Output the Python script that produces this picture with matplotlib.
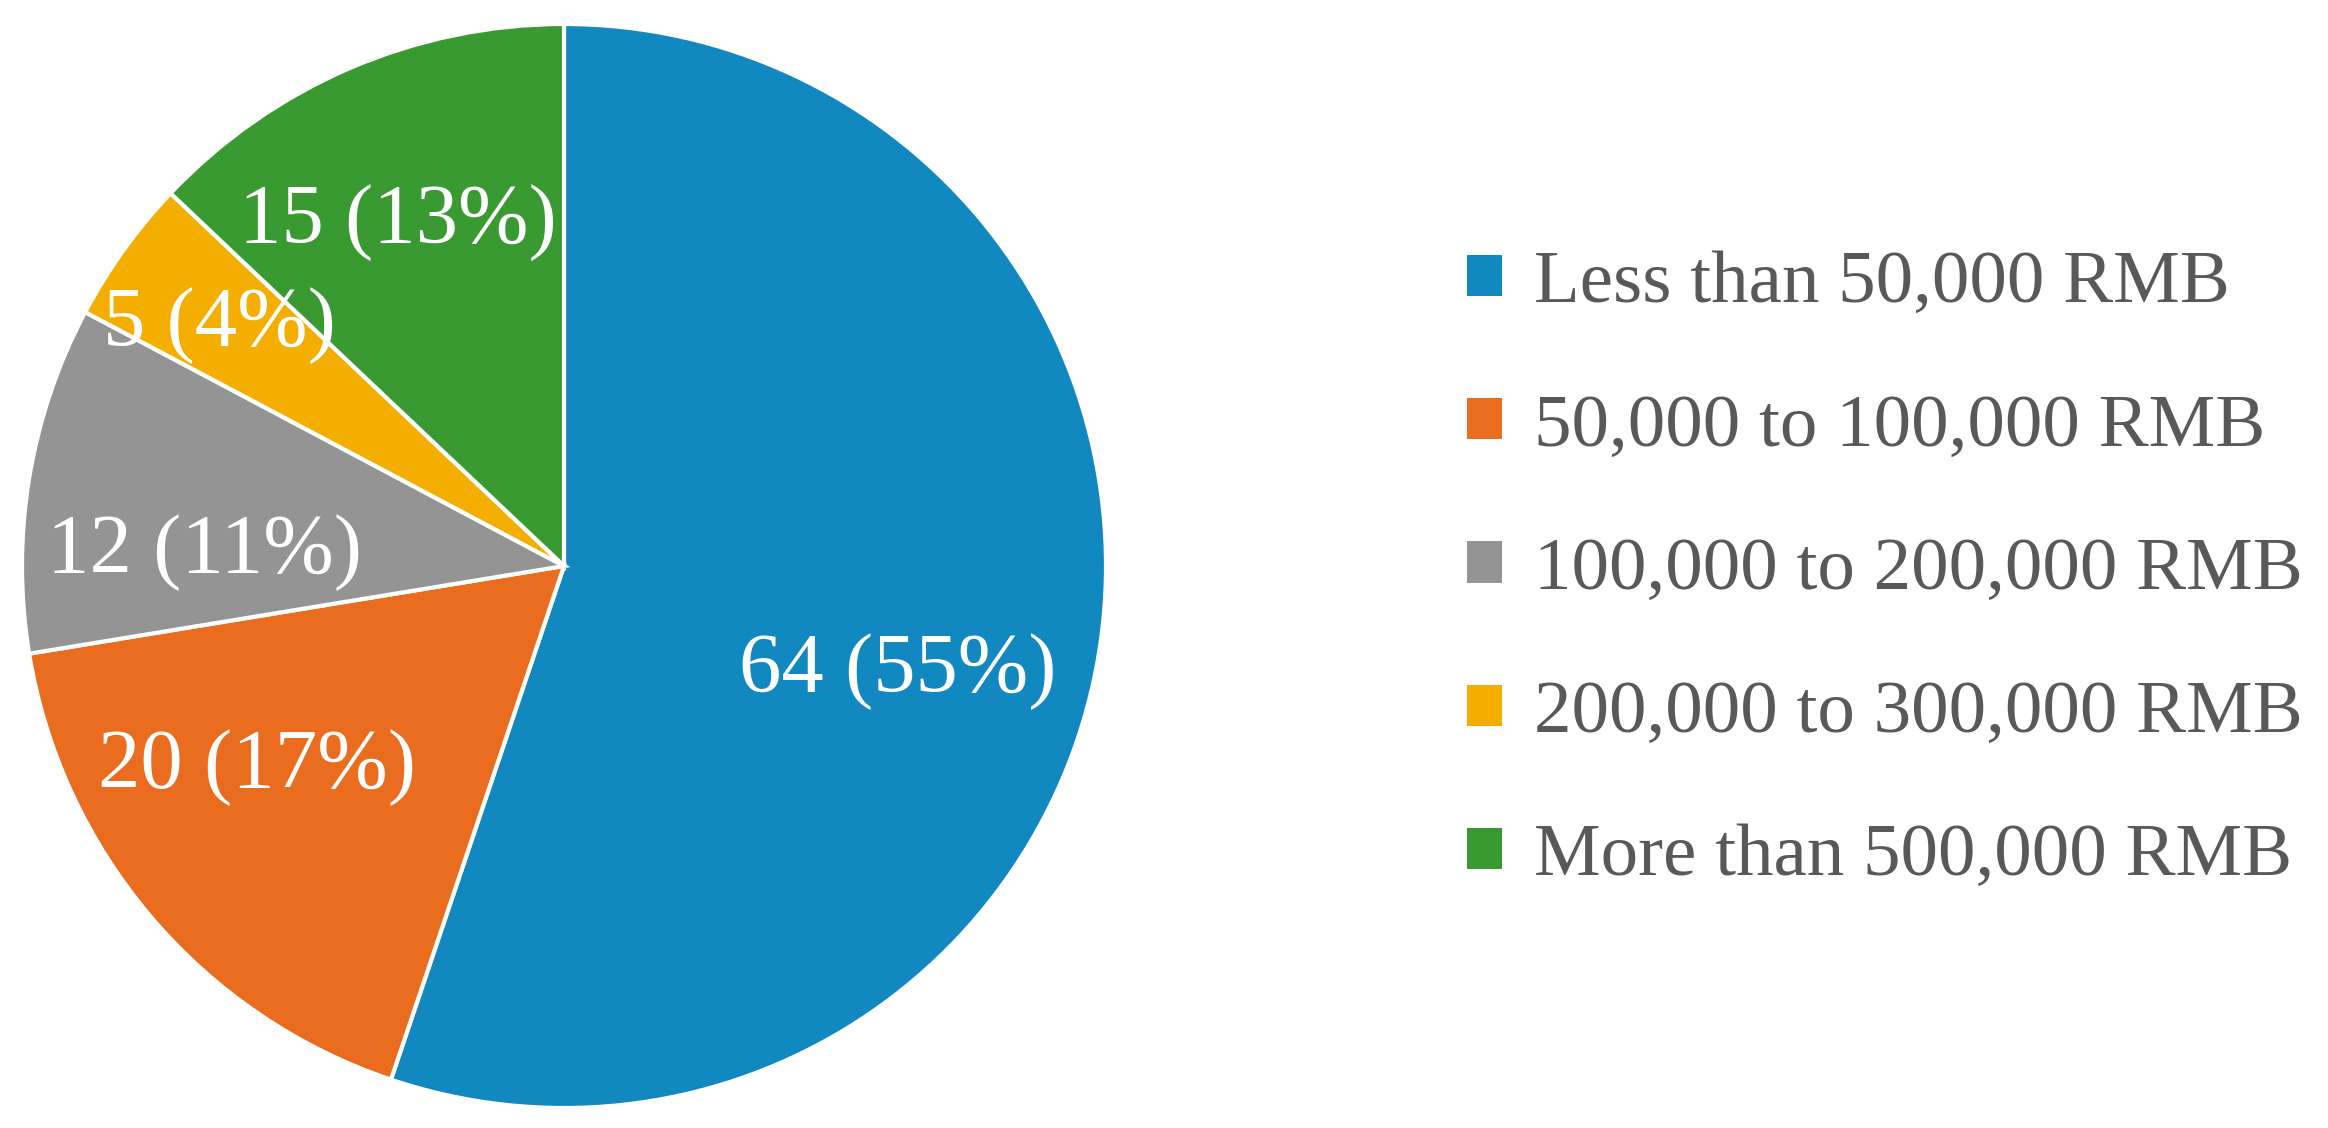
import matplotlib
matplotlib.use("Agg")
import matplotlib.pyplot as plt
import numpy as np

categories = ["Less than 50,000 RMB", "50,000 to 100,000 RMB", "100,000 to 200,000 RMB",
              "200,000 to 300,000 RMB", "More than 500,000 RMB"]
counts = [64, 20, 12, 5, 15]
percent_labels = ["55%", "17%", "11%", "4%", "13%"]
colors = ["#1288C0", "#EA6C1E", "#949494", "#F4AE00", "#3A9A32"]

# label placement (style): radial distance and angular shift from wedge middle
label_dist = [0.646, 0.678, 0.663, 0.775, 0.703]
label_shift = [-8.2, -7.0, 7.1, 0.7, 2.5]

plt.rcParams['font.family'] = ['Liberation Serif', 'DejaVu Serif']

fig = plt.figure(figsize=(23.28, 11.28), dpi=100)
ax = fig.add_axes([22/2328, 20/1128, 1084/2328, 1084/1128])
wedges, _ = ax.pie(counts, colors=colors, startangle=90, counterclock=False,
                   radius=1.0, wedgeprops=dict(edgecolor="white", linewidth=3))
ax.set_xlim(-1, 1)
ax.set_ylim(-1, 1)
ax.set_aspect("equal")
ax.axis("off")

for w, n, p, d, s in zip(wedges, counts, percent_labels, label_dist, label_shift):
    ang = np.deg2rad((w.theta1 + w.theta2) / 2 + s)
    ax.text(d * np.cos(ang), d * np.sin(ang), f"{n} ({p})", ha="center", va="center",
            color="white", fontsize=61)

fig.legend(wedges, categories, loc="center left", bbox_to_anchor=(1467/2328, 557/1128),
           frameon=False, fontsize=54, handlelength=0.47, handleheight=0.47,
           handletextpad=0.42, labelspacing=1.01, labelcolor="#595959", borderpad=0,
           borderaxespad=0)
for h in fig.legends[0].legend_handles:
    h.set_edgecolor("none")

fig.savefig("out.png", dpi=100, facecolor="white")
